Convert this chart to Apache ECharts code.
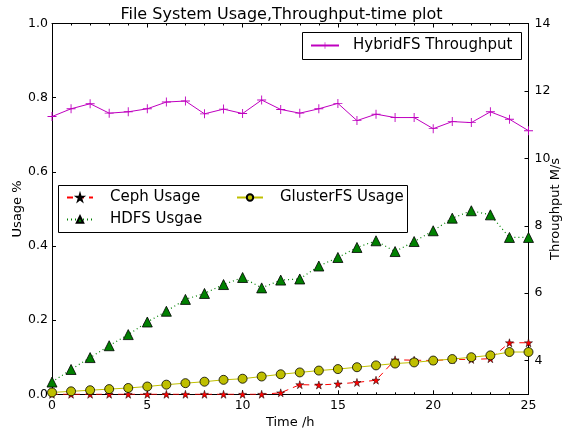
<!DOCTYPE html>
<html><head><meta charset="utf-8">
<script src="https://cdn.jsdelivr.net/npm/echarts@6/dist/echarts.min.js"></script>
<style>html,body{margin:0;padding:0;background:#fff}#c{width:563px;height:429px}</style>
</head><body><div id="c"></div><script>
const hours = [0,1,2,3,4,5,6,7,8,9,10,11,12,13,14,15,16,17,18,19,20,21,22,23,24,25];
const cephUsage = [0,0,0,0,0,0,0,0,0,0,0,0,0.004,0.026,0.025,0.028,0.032,0.038,0.093,0.092,0.091,0.094,0.094,0.096,0.139,0.139];
const hdfsUsage = [0.033,0.067,0.099,0.131,0.161,0.195,0.224,0.256,0.272,0.296,0.315,0.287,0.308,0.311,0.346,0.369,0.396,0.414,0.385,0.412,0.441,0.475,0.495,0.484,0.423,0.423];
const glusterUsage = [0.005,0.008,0.011,0.014,0.017,0.021,0.026,0.030,0.034,0.039,0.042,0.048,0.054,0.059,0.064,0.068,0.073,0.078,0.083,0.086,0.091,0.095,0.100,0.105,0.114,0.114];
const hybridThroughput = [11.24,11.47,11.62,11.34,11.38,11.47,11.67,11.70,11.32,11.46,11.33,11.73,11.45,11.34,11.47,11.63,11.12,11.31,11.21,11.21,10.88,11.09,11.06,11.38,11.16,10.82];
const xTicks = [0,5,10,15,20,25];
const leftTicks = [0,0.2,0.4,0.6,0.8,1.0];
const rightTicks = [4,6,8,10,12,14];

const pairs = arr => arr.map((v,i)=>[hours[i], v]);
const FONT = 'DejaVu Sans';
const STAR = 'path://M50,0L61,35L98,35L68,57L79,91L50,70L21,91L32,57L2,35L39,35Z';
const PLUS = 'path://M4.5,0h1v4.5h4.5v1h-4.5v4.5h-1v-4.5h-4.5v-1h4.5z';

const chart = echarts.init(document.getElementById('c'), null, {renderer:'canvas'});
const legendBase = {
  orient:'horizontal', itemWidth:26, itemHeight:8, padding:0,
  textStyle:{fontFamily:FONT, fontSize:15, color:'#000', padding:[0,0,0,12]},
  selectedMode:false
};
const tickStyle = {color:'#000', width:1};
const lineAx = {show:true, onZero:false, lineStyle:{color:'#000', width:1}};
chart.setOption({
  animation:false,
  backgroundColor:'#fff',
  title:{text:'File System Usage,Throughput-time plot', left:'center', top:2,
    textStyle:{fontFamily:FONT, fontSize:16, fontWeight:'normal', color:'#000'}},
  grid:{left:52, right:34.5, top:23.5, bottom:34.7, containLabel:false, outerBoundsMode:'none'},
  legend:[
    Object.assign({}, legendBase, {data:['Ceph Usage'], left:66, top:190}),
    Object.assign({}, legendBase, {data:['HDFS Usgae'], left:66, top:212}),
    Object.assign({}, legendBase, {data:['GlusterFS Usage'], left:236, top:190}),
    Object.assign({}, legendBase, {data:['HybridFS Throughput'], left:310, top:38, itemWidth:28, textStyle:{fontFamily:FONT, fontSize:15, color:'#000', padding:[0,0,0,9]}})
  ],
  graphic:{elements:[
    {type:'rect', z:3, shape:{x:58.5, y:185.5, width:349, height:47}, style:{fill:'#fff', stroke:'#000', lineWidth:1}},
    {type:'rect', z:3, shape:{x:302.5, y:32.5, width:219, height:27}, style:{fill:'#fff', stroke:'#000', lineWidth:1}}
  ]},
  xAxis:[
    {type:'value', min:0, max:25, interval:5, position:'bottom',
      name:'Time /h', nameLocation:'middle', nameGap:22, nameMoveOverlap:false,
      nameTextStyle:{fontFamily:FONT, fontSize:13, color:'#000'},
      axisLine:lineAx,
      axisTick:{show:true, inside:true, length:4, lineStyle:tickStyle},
      minorTick:{show:true, splitNumber:5, length:2, lineStyle:tickStyle},
      axisLabel:{fontFamily:FONT, fontSize:12.5, color:'#000', margin:5},
      splitLine:{show:false}},
    {type:'value', min:0, max:25, interval:5, position:'top',
      axisLine:lineAx,
      axisTick:{show:true, inside:true, length:4, lineStyle:tickStyle},
      minorTick:{show:true, splitNumber:5, length:2, lineStyle:tickStyle},
      axisLabel:{show:false}, splitLine:{show:false}}
  ],
  yAxis:[
    {type:'value', min:0, max:1, interval:0.2, position:'left',
      name:'Usage %', nameLocation:'middle', nameRotate:90, nameGap:28, nameMoveOverlap:false,
      nameTextStyle:{fontFamily:FONT, fontSize:13, color:'#000'},
      axisLine:lineAx,
      axisTick:{show:true, inside:true, length:4, lineStyle:tickStyle},
      axisLabel:{fontFamily:FONT, fontSize:12.5, color:'#000', margin:4, formatter:v=>v.toFixed(1)},
      splitLine:{show:false}},
    {type:'value', min:3, max:14, position:'right',
      name:'Throughput M/s', nameLocation:'middle', nameRotate:90, nameGap:21, nameMoveOverlap:false,
      nameTextStyle:{fontFamily:FONT, fontSize:13, color:'#000'},
      axisLine:lineAx,
      axisTick:{show:true, inside:true, length:4, customValues:rightTicks, lineStyle:tickStyle},
      axisLabel:{fontFamily:FONT, fontSize:12.5, color:'#000', margin:6, customValues:rightTicks},
      splitLine:{show:false}}
  ],
  series:[
    {name:'Ceph Usage', type:'line', xAxisIndex:0, yAxisIndex:0, data:pairs(cephUsage),
      symbol:STAR, symbolSize:8, showAllSymbol:true, z:3,
      lineStyle:{color:'#ff0000', width:1, type:[6,5]},
      itemStyle:{color:'#ff0000', borderColor:'#000', borderWidth:0.5}},
    {name:'HDFS Usgae', type:'line', xAxisIndex:0, yAxisIndex:0, data:pairs(hdfsUsage),
      symbol:'triangle', symbolSize:10, showAllSymbol:true, z:3,
      lineStyle:{color:'#008000', width:1.2, type:[1,3]},
      itemStyle:{color:'#008000', borderColor:'#000', borderWidth:0.8}},
    {name:'GlusterFS Usage', type:'line', xAxisIndex:0, yAxisIndex:0, data:pairs(glusterUsage),
      symbol:'circle', symbolSize:9, showAllSymbol:true, z:3,
      lineStyle:{color:'#bfbf00', width:1},
      itemStyle:{color:'#bfbf00', borderColor:'#000', borderWidth:0.8}},
    {name:'HybridFS Throughput', type:'line', xAxisIndex:0, yAxisIndex:1, data:pairs(hybridThroughput),
      symbol:PLUS, symbolSize:9, showAllSymbol:true, z:3,
      lineStyle:{color:'#bf00bf', width:1},
      itemStyle:{color:'#bf00bf', borderWidth:0}}
  ]
});
</script></body></html>
